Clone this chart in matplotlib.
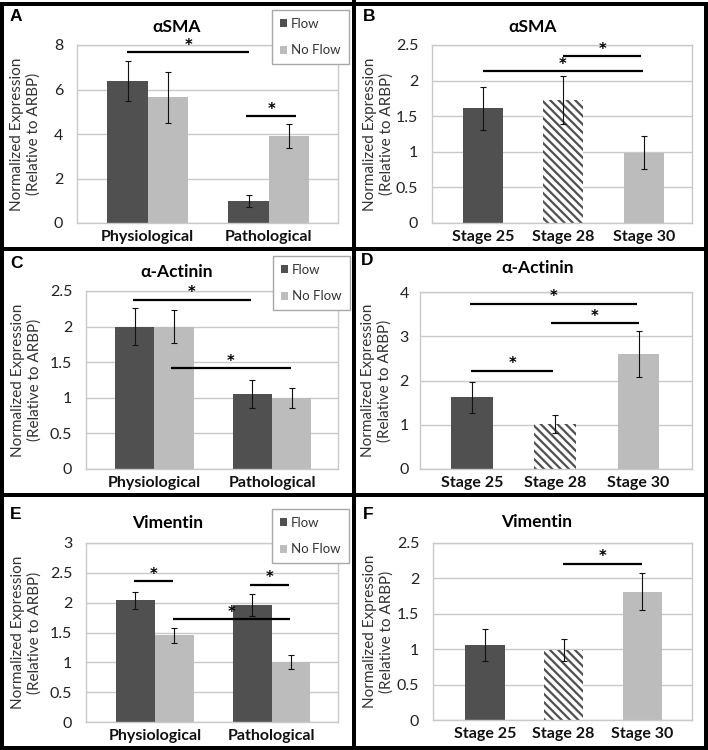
import matplotlib
matplotlib.use("Agg")
import matplotlib.pyplot as plt
import numpy as np
from matplotlib.patches import Patch, Rectangle
from matplotlib.lines import Line2D
from matplotlib.ticker import MultipleLocator, FormatStrFormatter

W, H = 708, 750
DPI = 100

plt.rcParams["font.family"] = ["Lato", "DejaVu Sans"]
plt.rcParams["hatch.linewidth"] = 1.6

DARK = "#505050"
LIGHT = "#bcbcbc"
GRID = "#c9c9c9"

# --- data ---
flow_groups = ["Physiological", "Pathological"]
stages = ["Stage 25", "Stage 28", "Stage 30"]

sma_flow = [6.4, 1.0]
sma_flow_err = [0.9, 0.28]
sma_noflow = [5.65, 3.9]
sma_noflow_err = [1.15, 0.55]

actinin_flow = [2.0, 1.05]
actinin_flow_err = [0.26, 0.2]
actinin_noflow = [2.0, 1.0]
actinin_noflow_err = [0.23, 0.14]

vim_flow = [2.04, 1.96]
vim_flow_err = [0.14, 0.19]
vim_noflow = [1.45, 1.0]
vim_noflow_err = [0.13, 0.12]

sma_stage = [1.61, 1.73, 0.99]
sma_stage_err = [0.3, 0.34, 0.23]
actinin_stage = [1.62, 1.01, 2.6]
actinin_stage_err = [0.35, 0.2, 0.52]
vim_stage = [1.06, 0.99, 1.81]
vim_stage_err = [0.23, 0.15, 0.26]

# significance brackets: (x start, x end, y) in data units
sig_a = [(-0.17, 0.84, 7.67), (0.81, 1.23, 4.81)]
sig_b = [(1.0, 1.97, 2.34), (0.0, 1.99, 2.13)]
sig_c = [(-0.18, 0.82, 2.38), (0.14, 1.16, 1.42)]
sig_d = [(-0.02, 1.98, 3.74), (0.95, 2.0, 3.3), (-0.01, 0.98, 2.22)]
sig_e = [(-0.18, 0.16, 2.36), (0.16, 1.16, 1.72), (0.82, 1.15, 2.30)]
sig_f = [(0.99, 1.99, 2.21)]

fig = plt.figure(figsize=(W / DPI, H / DPI), dpi=DPI)


def px_axes(l, t, r, b):
    return fig.add_axes([l / W, 1 - b / H, (r - l) / W, (b - t) / H])


def style_axes(ax, ymax, step, xlim, labels, pad, label_px, left_px, right_px):
    ax.set_xlim(*xlim)
    ax.set_ylim(0, ymax)
    ax.yaxis.set_major_locator(MultipleLocator(step))
    ax.yaxis.set_major_formatter(FormatStrFormatter("%g"))
    ax.set_xticks(range(len(labels)))
    ax.set_xticklabels(labels, fontweight="bold", fontsize=11.5)
    ax.grid(axis="y", color=GRID, lw=1)
    ax.set_axisbelow(True)
    for s in ax.spines.values():
        s.set_color(GRID)
        s.set_linewidth(1)
    ax.tick_params(axis="y", length=0, pad=pad, labelsize=11.5, labelcolor="#222222")
    ax.tick_params(axis="x", length=0, pad=5, labelcolor="#111111")
    ax.set_ylabel("Normalized Expression\n(Relative to ARBP)", fontsize=11,
                  linespacing=1.25, color="#333333")
    # label anchor is the right edge of the rotated text
    ax.yaxis.set_label_coords((label_px - left_px) / (right_px - left_px), 0.5)


def add_sig(ax, brackets):
    for x1, x2, y in brackets:
        ax.plot([x1, x2], [y, y], color="black", lw=1.6, clip_on=False,
                solid_capstyle="butt")
        ax.annotate("*", ((x1 + x2) / 2, y), xytext=(0, -0.5),
                    textcoords="offset points", ha="center", va="bottom",
                    fontsize=10.5, fontweight="bold", family="DejaVu Sans")


def grouped(ax, flow, flow_err, noflow, noflow_err):
    x = np.arange(len(flow_groups))
    w = 0.333
    ax.bar(x - w / 2, flow, w, color=DARK, lw=0)
    ax.bar(x + w / 2, noflow, w, color=LIGHT, lw=0)
    ax.errorbar(x - w / 2, flow, yerr=flow_err, fmt="none", ecolor="#111111",
                elinewidth=0.8, capsize=2.5, capthick=0.8)
    ax.errorbar(x + w / 2, noflow, yerr=noflow_err, fmt="none", ecolor="#111111",
                elinewidth=0.8, capsize=2.5, capthick=0.8)


def staged(ax, vals, errs):
    x = np.arange(len(stages))
    bars = ax.bar(x, vals, 0.5, color=[DARK, "white", LIGHT], lw=0)
    bars[1].set_edgecolor(DARK)
    bars[1].set_hatch("\\\\\\\\")
    bars[1].set_linewidth(0)
    ax.errorbar(x, vals, yerr=errs, fmt="none", ecolor="#111111",
                elinewidth=0.8, capsize=2.5, capthick=0.8)


def legend_at(lpx, tpx):
    handles = [Patch(facecolor=DARK, label="Flow"),
               Patch(facecolor=LIGHT, label="No Flow")]
    leg = fig.legend(handles=handles, loc="upper left",
                     bbox_to_anchor=(lpx / W, 1 - tpx / H), frameon=True,
                     fancybox=False, edgecolor="#a8a8a8", framealpha=1,
                     handlelength=0.55, handleheight=0.55, handletextpad=0.3,
                     labelspacing=1.1, borderpad=0.6, borderaxespad=0,
                     fontsize=9.5)
    for t in leg.get_texts():
        t.set_color("#333333")


def title_at(text, cx, cy):
    fig.text(cx / W, 1 - cy / H, text, ha="center", va="center",
             fontsize=12.5, fontweight="bold")


def letter_at(text, lx, ty):
    fig.text(lx / W, 1 - ty / H, text, ha="left", va="top", fontsize=12.5,
             fontweight="bold", family="Liberation Sans")


# Panel A
ax = px_axes(77, 45, 338, 223)
grouped(ax, sma_flow, sma_flow_err, sma_noflow, sma_noflow_err)
style_axes(ax, 8, 2, (-0.584, 1.573), flow_groups, 10, 41, 77, 338)
add_sig(ax, sig_a)
legend_at(272, 10)
title_at("αSMA", 177, 27)
letter_at("A", 10, 9)

# Panel B
ax = px_axes(432, 45, 692, 223)
staged(ax, sma_stage, sma_stage_err)
style_axes(ax, 2.5, 0.5, (-0.63, 2.60), stages, 10, 394, 432, 692)
add_sig(ax, sig_b)
title_at("αSMA", 533, 27)
letter_at("B", 363, 9)

# Panel C
ax = px_axes(86, 291, 338, 469)
grouped(ax, actinin_flow, actinin_flow_err, actinin_noflow, actinin_noflow_err)
style_axes(ax, 2.5, 0.5, (-0.58, 1.56), flow_groups, 10, 42, 86, 338)
add_sig(ax, sig_c)
legend_at(273, 256)
title_at("α-Actinin", 177, 272)
letter_at("C", 10, 256)

# Panel D
ax = px_axes(420, 292, 692, 469)
staged(ax, actinin_stage, actinin_stage_err)
style_axes(ax, 4, 1, (-0.62, 2.64), stages, 8, 392, 420, 692)
add_sig(ax, sig_d)
title_at("α-Actinin", 538, 268)
letter_at("D", 361, 253)

# Panel E
ax = px_axes(86, 543, 338, 722)
grouped(ax, vim_flow, vim_flow_err, vim_noflow, vim_noflow_err)
style_axes(ax, 3, 0.5, (-0.59, 1.57), flow_groups, 10, 42, 86, 338)
add_sig(ax, sig_e)
legend_at(272, 509)
title_at("Vimentin", 168, 523)
letter_at("E", 10, 507)

# Panel F
ax = px_axes(433, 543, 692, 720)
staged(ax, vim_stage, vim_stage_err)
style_axes(ax, 2.5, 0.5, (-0.66, 2.63), stages, 10, 394, 433, 692)
add_sig(ax, sig_f)
title_at("Vimentin", 537, 522)
letter_at("F", 363, 507)

# panel frames
lw = 4 * 72 / DPI
fig.add_artist(Rectangle((2 / W, 2 / H), 703.5 / W, 744.5 / H, fill=False,
                         edgecolor="black", lw=lw, transform=fig.transFigure))
fig.add_artist(Line2D([354 / W, 354 / W], [0, 1], color="black", lw=lw,
                      transform=fig.transFigure))
for ypx in (249, 495):
    fig.add_artist(Line2D([0, 1], [1 - ypx / H, 1 - ypx / H], color="black",
                          lw=lw, transform=fig.transFigure))

fig.savefig("out.png", dpi=DPI)
